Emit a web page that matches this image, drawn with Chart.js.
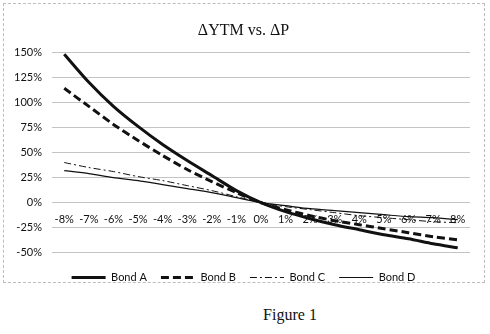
<!DOCTYPE html>
<html>
<head>
<meta charset="utf-8">
<script src="https://cdn.jsdelivr.net/npm/chart.js@4"></script>
<style>
  body { margin: 0; width: 490px; height: 334px; background: #fff; position: relative; overflow: hidden; }
  #frame { position: absolute; left: 3px; top: 3px; width: 480px; height: 278px; border: 1px dashed #bdbdbd; }
  #wrap { position: absolute; left: 4px; top: 4px; width: 479px; height: 289px; }
  #caption { position: absolute; left: 230px; top: 306px; width: 120px; text-align: center;
    font-family: "Liberation Serif", "DejaVu Serif", serif; font-size: 16px; color: #111; }
</style>
</head>
<body>
<div id="frame"></div>
<div id="wrap"><canvas id="myChart"></canvas></div>
<div id="caption">Figure 1</div>
<script>
'use strict'

// change in yield, one label per category
let yieldChanges = ['-8%', '-7%', '-6%', '-5%', '-4%', '-3%', '-2%', '-1%', '0%',
  '1%', '2%', '3%', '4%', '5%', '6%', '7%', '8%'];

// price change in percent for each bond
let bondA = [148, 120, 96, 76, 58, 42, 27, 12, 0, -9, -16, -22, -27, -32, -36, -41, -45];
let bondB = [114, 96, 78, 62, 47, 33, 21, 10, 0, -7, -13, -18, -22, -26, -30, -34, -37];
let bondC = [40, 35, 31, 26, 22, 17, 12, 6, 0, -4, -7, -10, -13, -15, -17, -19, -20];
let bondD = [32, 29, 25, 22, 18, 14, 10, 5, 0, -3, -6, -8, -10, -12, -14, -15, -17];

let yTicks = [-50, -25, 0, 25, 50, 75, 100, 125, 150];

const labelFont = { family: 'Lato, "Open Sans", sans-serif', size: 11 };

function makeLine(name, values, width, dash) {
  return {
    label: name,
    data: values,
    borderColor: '#111',
    backgroundColor: '#111',
    borderWidth: width,
    borderDash: dash,
    pointRadius: 0,
    tension: 0.25,
    fill: false
  };
}

// legend samples keep each line's width and dash pattern
function legendLabels(chart) {
  return chart.data.datasets.map(function(ds, i) {
    return {
      text: ds.label,
      datasetIndex: i,
      fillStyle: ds.borderColor,
      strokeStyle: ds.borderColor,
      lineWidth: ds.borderWidth,
      lineDash: ds.borderDash,
      pointStyle: 'line',
      fontColor: '#111',
      hidden: false
    };
  });
}

let data = {
  labels: yieldChanges,
  datasets: [
    makeLine('Bond A', bondA, 3, []),
    makeLine('Bond B', bondB, 3, [8, 4]),
    makeLine('Bond C', bondC, 1, [7, 3, 2, 3]),
    makeLine('Bond D', bondD, 1.2, [])
  ]
};

const config = {
  type: 'line',
  data: data,
  options: {
    responsive: true,
    maintainAspectRatio: false,
    animation: false,
    layout: { padding: 0 },
    plugins: {
      title: {
        display: true,
        text: 'ΔYTM vs. ΔP',
        color: '#111',
        font: { family: '"Liberation Serif", "DejaVu Serif", serif', size: 16, weight: 'normal' },
        padding: { top: 17, bottom: 12 }
      },
      legend: {
        position: 'bottom',
        // empty title only pushes the legend row down
        title: { display: true, text: '', font: { size: 1 }, padding: { top: 4, bottom: 0 } },
        labels: {
          color: '#111',
          font: labelFont,
          usePointStyle: true,
          pointStyle: 'line',
          pointStyleWidth: 34,
          padding: 14,
          generateLabels: legendLabels
        }
      },
      tooltip: { enabled: false }
    },
    scales: {
      x: {
        position: { y: 0 },
        offset: true,
        grid: { display: false, drawTicks: false, tickLength: 0 },
        border: { display: false },
        ticks: { color: '#111', font: labelFont, padding: 10, maxRotation: 0, autoSkip: false }
      },
      y: {
        min: yTicks[0],
        max: yTicks[yTicks.length - 1],
        afterBuildTicks: function(axis) {
          axis.ticks = yTicks.map(v => ({ value: v }));
        },
        grid: { color: '#c4c4c4', lineWidth: 1, drawTicks: false },
        border: { display: false },
        ticks: {
          color: '#111',
          font: labelFont,
          padding: 10,
          callback: function(v) { return v + '%'; }
        }
      },
      // blank strip on the right so the plot stops short of the frame
      spacer: {
        position: 'right',
        grid: { display: false, drawTicks: false },
        border: { display: false },
        ticks: { display: false },
        afterFit: function(axis) { axis.width = 13; }
      }
    }
  }
};

let myChart = new Chart(document.getElementById('myChart'), config);
</script>
</body>
</html>
